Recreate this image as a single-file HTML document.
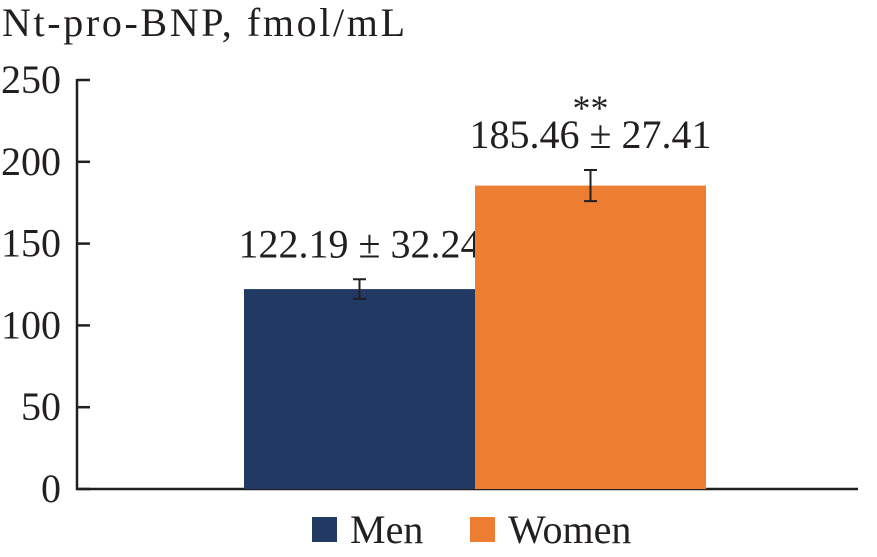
<!DOCTYPE html>
<html><head><meta charset="utf-8"><style>
html,body{margin:0;padding:0;background:#fff;}
svg{display:block;font-family:"Liberation Serif",serif;}
</style></head><body>
<svg width="877" height="557" viewBox="0 0 877 557">
<text x="2" y="36" font-size="40" textLength="403" lengthAdjust="spacing" fill="#231f20">Nt-pro-BNP, fmol/mL</text>
<g id="axes"></g>
<g id="bars"></g>
<g id="legend"></g>
</svg>
<script>
const categories = ["Men", "Women"];
const means = [122.19, 185.46];
const errors = [6, 9.5];
const labels = ["122.19 \u00b1 32.24", "185.46 \u00b1 27.41"];
const signif = ["", "**"];
const colors = ["#223963", "#ed7d31"];
const yTicks = [0, 50, 100, 150, 200, 250];

const NS = "http://www.w3.org/2000/svg";
const y0 = 489, y1 = 80, yMax = 250;
const yScale = v => y0 - (v / yMax) * (y0 - y1);
const bandStart = 244, bandW = 231;
const xScale = i => bandStart + i * bandW;
function mk(tag, attrs, parent) {
  const e = document.createElementNS(NS, tag);
  for (const k in attrs) e.setAttribute(k, attrs[k]);
  parent.appendChild(e);
  return e;
}
const axes = document.getElementById("axes");
const ax = mk("line", {x1: 77, y1: y1 - 1, x2: 77, y2: y0 + 1, stroke: "#231f20", "stroke-width": 2.5}, axes);


yTicks.forEach(t => {
  const tk = mk("line", {x1: 77, y1: yScale(t), x2: 90, y2: yScale(t), stroke: "#231f20", "stroke-width": 2.5}, axes);
  
  
  const tl = mk("text", {x: 61, y: yScale(t) + 13, "text-anchor": "end", "font-size": 40, fill: "#231f20"}, axes);
  tl.textContent = t;
  
  
});
const bars = document.getElementById("bars");
categories.forEach((c, i) => {
  const x = xScale(i), yt = yScale(means[i]);
  const r = mk("rect", {x: x, y: yt, width: bandW, height: y0 - yt, fill: colors[i]}, bars);
  
  
  const cx = x + bandW / 2, ya = yScale(means[i] + errors[i]), yb = yScale(means[i] - errors[i]);
  const eb = mk("path", {d: `M${cx},${ya}V${yb}M${cx-6.5},${ya}H${cx+6.5}M${cx-6.5},${yb}H${cx+6.5}`, stroke: "#231f20", "stroke-width": 2, fill: "none"}, bars);
  
  
  const lt = mk("text", {x: cx, y: ya - 22, "text-anchor": "middle", "font-size": 40, fill: "#231f20"}, bars);
  lt.textContent = labels[i];
  
  
  if (signif[i]) {
    const st = mk("text", {x: cx, y: ya - 50, "text-anchor": "middle", "font-size": 36, fill: "#231f20"}, bars);
    st.textContent = signif[i];
    
    
  }
});
const xa = mk("line", {x1: 76, y1: y0, x2: 858, y2: y0, stroke: "#231f20", "stroke-width": 2.5}, axes);


const legend = document.getElementById("legend");
const lx = [312, 470];
categories.forEach((c, i) => {
  const g = mk("g", {}, legend);
  
  
  mk("rect", {x: lx[i], y: 517, width: 25, height: 25, fill: colors[i]}, g);
  const t = mk("text", {x: lx[i] + 38, y: 543, "font-size": 40, fill: "#231f20"}, g);
  t.textContent = c;
});
</script>
</body></html>
